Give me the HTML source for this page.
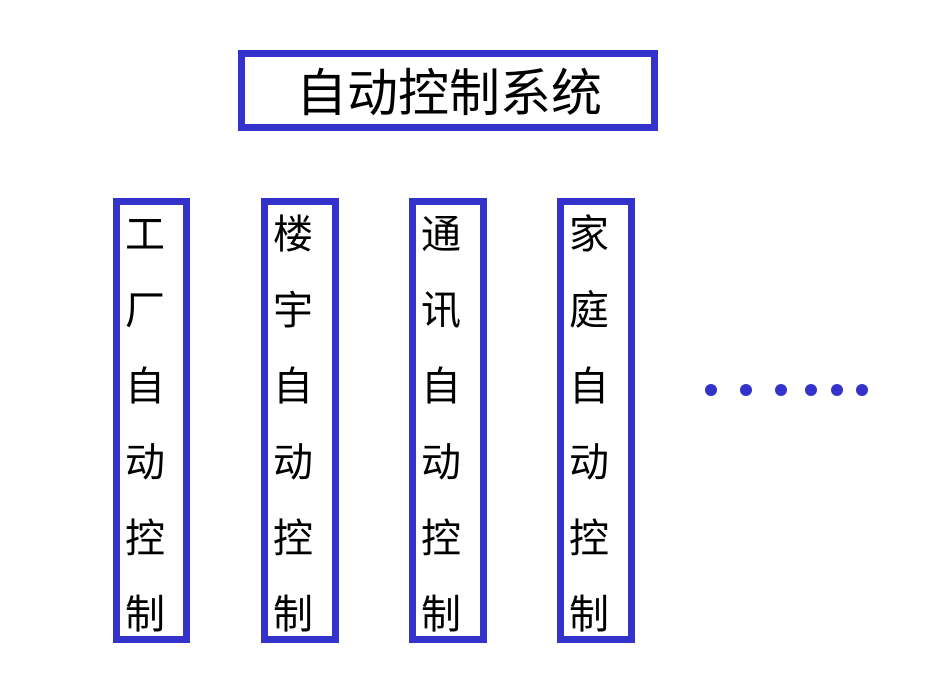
<!DOCTYPE html>
<html><head><meta charset="utf-8"><style>
body{margin:0;width:950px;height:700px;background:#fff;position:relative;overflow:hidden;font-family:"Liberation Sans","Noto Sans CJK SC",sans-serif;}
.b{position:absolute;border:7px solid #3333cc;box-sizing:border-box;background:#fff;}
.c{position:absolute;font-size:40px;line-height:40px;width:40px;text-align:center;color:#000;}
.d{position:absolute;width:12px;height:12px;border-radius:50%;background:#3333cc;}
</style></head><body>
<div class="b" style="left:238px;top:50px;width:420px;height:81px;"></div>
<div style="position:absolute;left:296px;top:68px;height:52px;line-height:52px;font-size:51px;color:#000;white-space:nowrap;">自动控制系统</div>

<div class="b" style="left:113px;top:198px;width:77px;height:445px;"></div>
<div class="b" style="left:261px;top:198px;width:78px;height:445px;"></div>
<div class="b" style="left:409px;top:198px;width:78px;height:445px;"></div>
<div class="b" style="left:557px;top:198px;width:78px;height:445px;"></div>

<div class="c" style="left:125px;top:215px">工</div>
<div class="c" style="left:125px;top:291px">厂</div>
<div class="c" style="left:125px;top:367px">自</div>
<div class="c" style="left:125px;top:443px">动</div>
<div class="c" style="left:125px;top:519px">控</div>
<div class="c" style="left:125px;top:595px">制</div>

<div class="c" style="left:273px;top:215px">楼</div>
<div class="c" style="left:273px;top:291px">宇</div>
<div class="c" style="left:273px;top:367px">自</div>
<div class="c" style="left:273px;top:443px">动</div>
<div class="c" style="left:273px;top:519px">控</div>
<div class="c" style="left:273px;top:595px">制</div>

<div class="c" style="left:421px;top:215px">通</div>
<div class="c" style="left:421px;top:291px">讯</div>
<div class="c" style="left:421px;top:367px">自</div>
<div class="c" style="left:421px;top:443px">动</div>
<div class="c" style="left:421px;top:519px">控</div>
<div class="c" style="left:421px;top:595px">制</div>

<div class="c" style="left:569px;top:215px">家</div>
<div class="c" style="left:569px;top:291px">庭</div>
<div class="c" style="left:569px;top:367px">自</div>
<div class="c" style="left:569px;top:443px">动</div>
<div class="c" style="left:569px;top:519px">控</div>
<div class="c" style="left:569px;top:595px">制</div>

<div class="d" style="left:705px;top:384px"></div>
<div class="d" style="left:740px;top:384px"></div>
<div class="d" style="left:775px;top:384px"></div>
<div class="d" style="left:805px;top:384px"></div>
<div class="d" style="left:831px;top:384px"></div>
<div class="d" style="left:856px;top:384px"></div>
</body></html>
